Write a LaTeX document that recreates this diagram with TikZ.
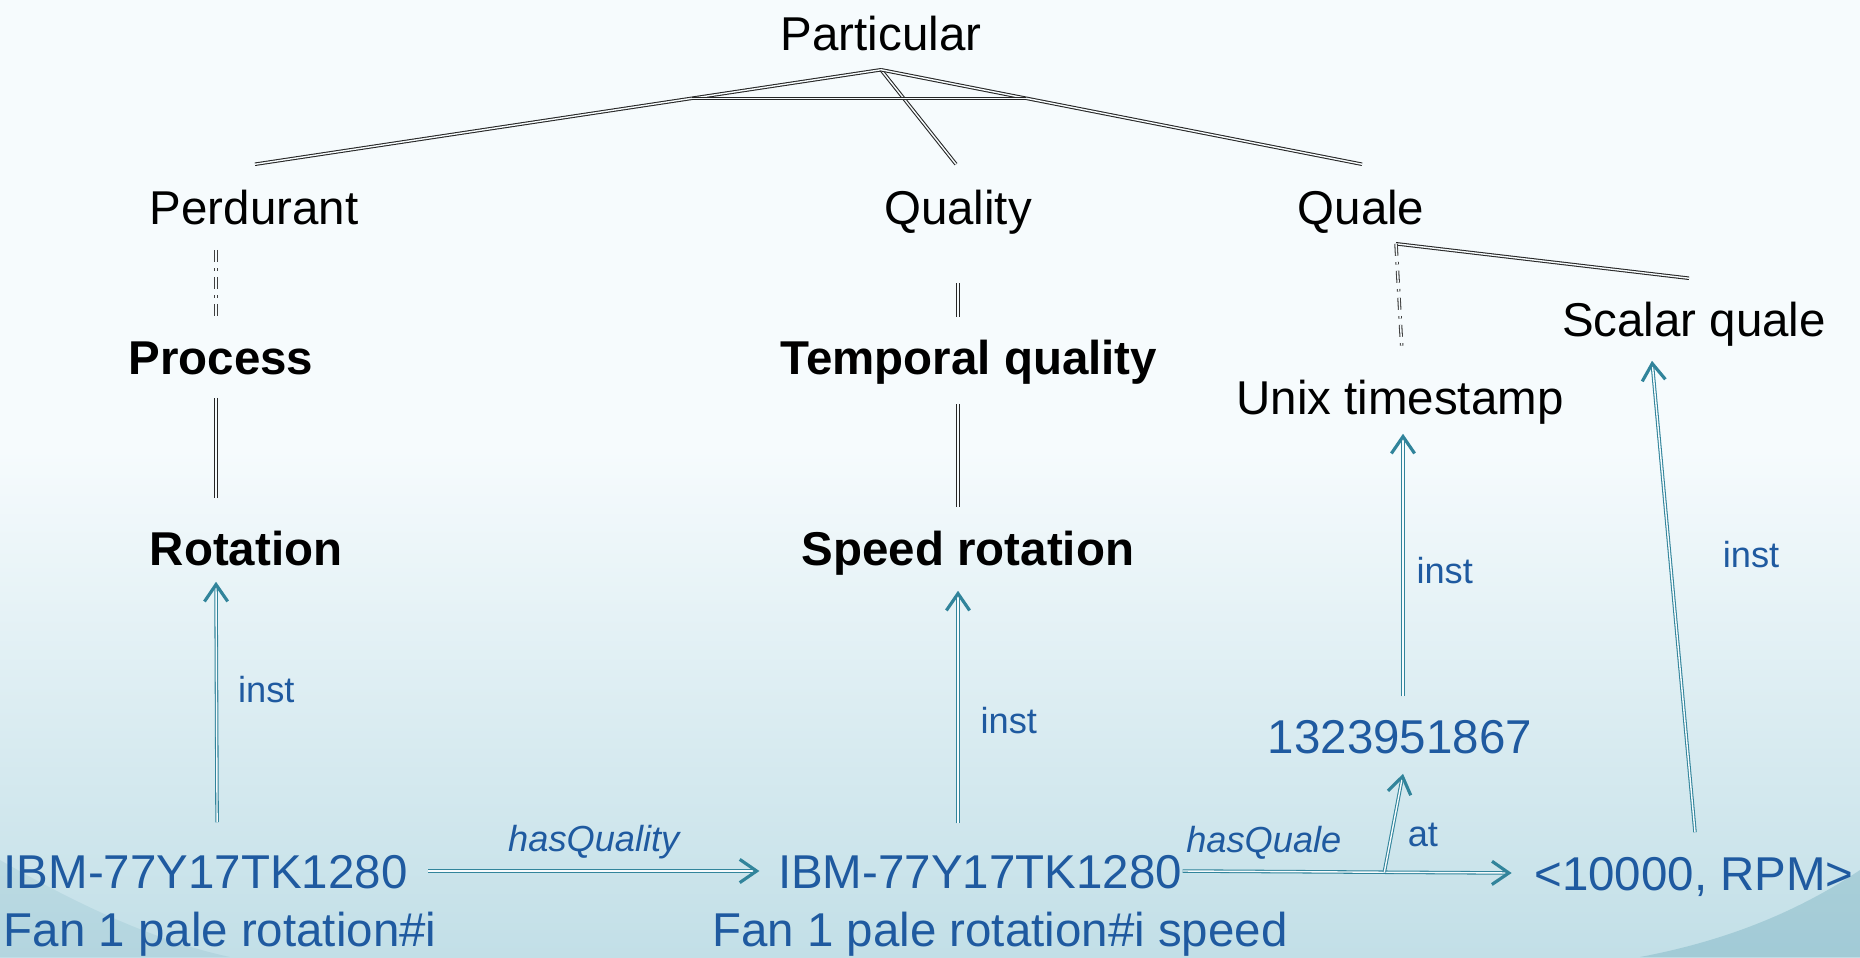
\documentclass[tikz,border=0pt]{standalone}
\usepackage{fontspec}
\setmainfont{Liberation Sans}
\usetikzlibrary{arrows.meta,calc}
\definecolor{txtblue}{RGB}{31,90,160}
\definecolor{arrc}{RGB}{49,132,155}
\definecolor{bgtop}{RGB}{246,251,253}
\definecolor{bgbot}{RGB}{194,223,231}

\begin{document}
\begin{tikzpicture}[x=0.01cm, y=-0.01cm,
		cls/.style={font=\fontsize{13.5}{16}\selectfont, inner sep=0pt, text height=9.7pt, text depth=0pt},
		bcls/.style={cls, font=\fontsize{13.5}{16}\selectfont\bfseries},
		inst/.style={cls, text=txtblue},
		lbl/.style={font=\fontsize{10.3}{12}\selectfont, text=txtblue, inner sep=0pt},
		rel/.style={lbl, font=\fontsize{10.3}{12}\selectfont\itshape},
		tree/.style={draw=black!85, line width=0.3pt, double=bgtop, double distance=0.4pt},
		dd/.style={tree, draw=black!75, dash pattern=on 3.4pt off 1.8pt on 0.7pt off 1.8pt},
		arr/.style={draw=arrc, line width=0.3pt, double=bgtop, double distance=0.4pt,
			-{Straight Barb[length=4.8pt,width=6.6pt,line width=0.9pt]}}]
		% background
		\useasboundingbox (0,0) rectangle (1860,957);
		\fill[bgtop] (0,0) rectangle (1860,957);
		\shade[top color=bgtop, bottom color=bgbot] (0,450) rectangle (1860,957);
		\fill[arrc, opacity=0.22] (1640,957) .. controls (1730,940) and (1800,910) .. (1860,870) -- (1860,957) -- cycle;
		\fill[arrc, opacity=0.10] (0,957) -- (0,860) .. controls (70,900) and (150,940) .. (230,957) -- cycle;

		% classes
		\node[cls] (part) at (881,33) {Particular};
		\node[cls] (perd) at (254,207) {Perdurant};
		\node[cls] (qual) at (958,207) {Quality};
		\node[cls] (quale) at (1361,207) {Quale};
		\node[bcls] (proc) at (221,357) {Process};
		\node[bcls] (tempq) at (969,357) {Temporal quality};
		\node[bcls] (rot) at (246,548) {Rotation};
		\node[bcls] (speed) at (968,548) {Speed rotation};
		\node[cls] (unix) at (1400,397) {Unix timestamp};
		\node[cls] (scalq) at (1694,319) {Scalar quale};

		% instances
		\node[inst] (num) at (1400,736) {1323951867};
		\node[inst] (rpm) at (1694,873) {<10000, RPM>};
		\node[inst, anchor=west] (fan1) at (3,871) {IBM-77Y17TK1280};
		\node[inst, anchor=west] (fan1n) at (3,929) {Fan 1 pale rotation\#i};
		\node[inst] (fan2) at (980,871) {IBM-77Y17TK1280};
		\node[inst] (fan2n) at (1000,929) {Fan 1 pale rotation\#i speed};

		% taxonomy
		\coordinate (apex) at ($(part.south)+(0,19)$);
		\draw[tree] (apex) -- ($(perd.north)+(1,-25)$) coordinate[pos=.302] (bl);
		\draw[tree] (apex) -- ($(qual.north)+(-2,-25)$);
		\draw[tree] (apex) -- ($(quale.north)+(1,-25)$) coordinate[pos=.302] (br);
		\draw[tree] (bl) -- (br);
		\draw[dd] ($(perd.south)+(-38,25)$) -- ($(proc.north)+(-5,-22)$);
		\draw[tree] ($(proc.south)+(-5,23)$) -- ($(rot.north)+(-30,-32)$);
		\draw[tree] ($(qual.south)+(0,58)$) -- ($(tempq.north)+(-11,-22)$);
		\draw[tree] ($(tempq.south)+(-11,29)$) -- ($(speed.north)+(-10,-23)$);
		\coordinate (qc) at ($(quale.south)+(35,19)$);
		\draw[tree] (qc) -- ($(scalq.north)+(-5,-23)$);
		\draw[dd] (qc) -- ($(unix.north)+(2,-28)$);

		% instantiation and relations
		\draw[arr] ($(fan1.north)+(11.5,-31)$) -- ($(rot.south)+(-30,16)$)
			node[lbl, pos=.55, right=6pt] (i1) {inst};
		\draw[arr] ($(fan2.north)+(-22,-30)$) -- ($(speed.south)+(-10,25)$)
			node[lbl, pos=.44, right=6.3pt] (i2) {inst};
		\draw[arr] ($(num.north)+(3,-22)$) -- ($(unix.south)+(3,19)$)
			node[lbl, pos=.48, right=3.7pt] (i3) {inst};
		\draw[arr] ($(rpm.north)+(1,-23)$) -- ($(scalq.south)+(-42,24)$)
			node[lbl, pos=.59, right=15pt] (i4) {inst};
		\draw[arr] ($(fan1.east)+(20,0)$) -- ($(fan2.west)+(-18,0)$)
			node[rel, pos=.5, above=3.4pt] (hq) {hasQuality};
		\draw[arr] (fan2.east) -- ($(rpm.west)+(-22,0)$)
			node[rel, pos=.247, above=3.4pt] (hql) {hasQuale}
			coordinate[pos=.613] (atq);
		\draw[arr] (atq) -- ($(num.south)+(3,20)$)
			node[lbl, pos=.38, right=4.5pt] (at) {at};
	\end{tikzpicture}
\end{document}
